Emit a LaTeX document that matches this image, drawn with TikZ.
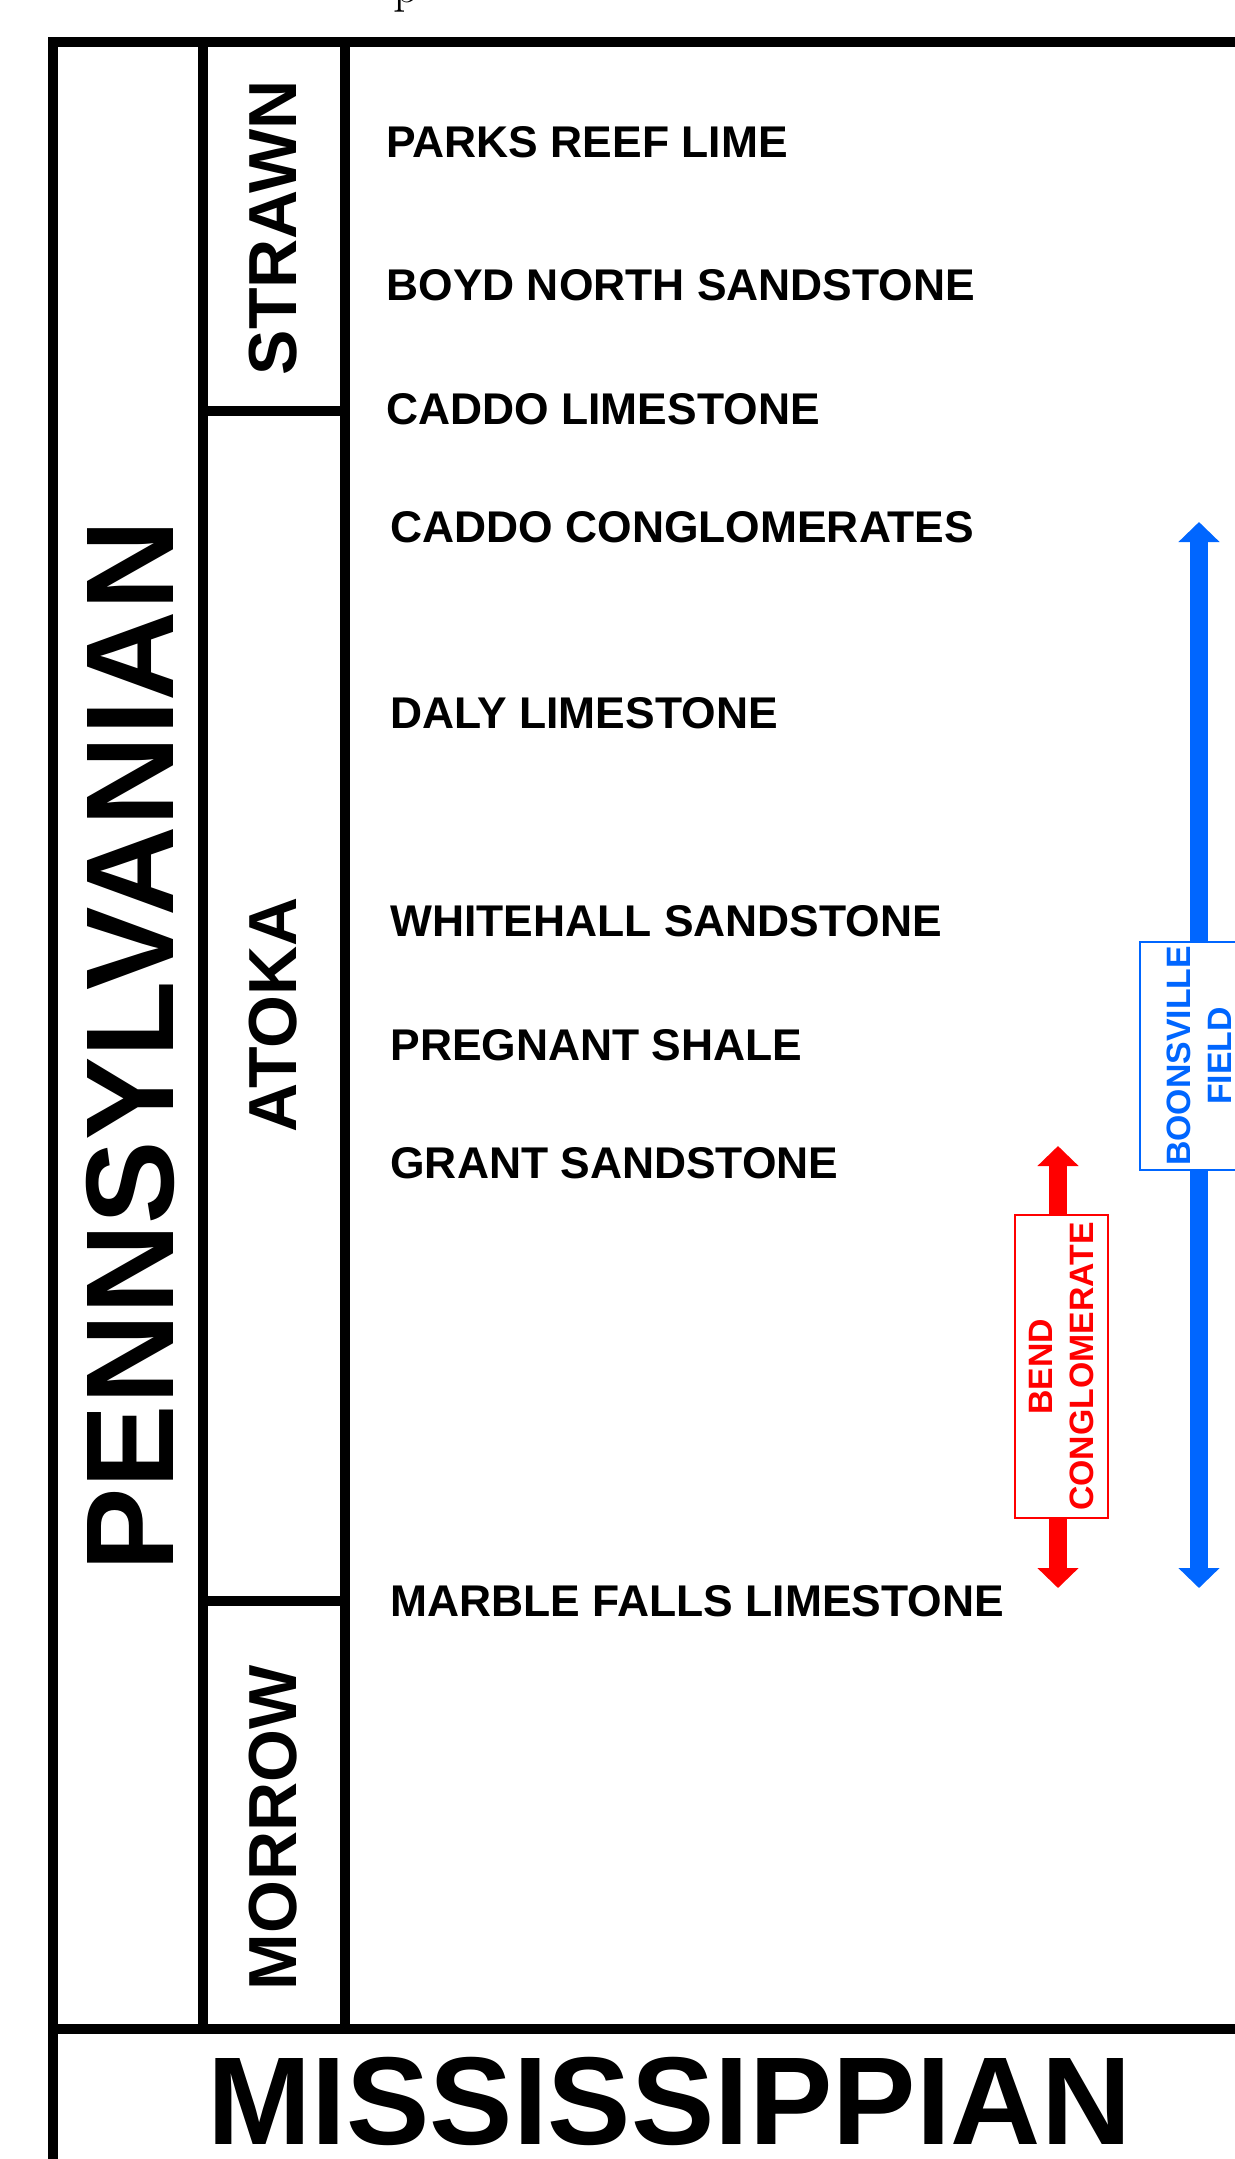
\documentclass[tikz,border=0pt]{standalone}
\usepackage{fontspec}
\newfontfamily\chartfont{Liberation Sans}
\usetikzlibrary{arrows.meta,positioning}
\definecolor{fieldblue}{RGB}{0,102,255}
\definecolor{bendred}{RGB}{255,0,0}
\tikzset{
  frame/.style={line width=5pt},
  unit/.style={anchor=west, inner sep=0pt, font=\chartfont\bfseries\fontsize{22.2}{26}\selectfont},
  series/.style={rotate=90, inner sep=0pt, font=\chartfont\bfseries\fontsize{34}{40}\selectfont},
  system/.style={inner sep=0pt, font=\chartfont\bfseries\fontsize{62.5}{70}\selectfont},
  spanarrow/.style={line width=9pt, {Triangle[width=20pt,length=10pt]}-{Triangle[width=20pt,length=10pt]}},
  spanbox/.style={draw=#1, text=#1, line width=1pt, fill=white, rotate=90, inner sep=0pt, align=center,
    font=\chartfont\bfseries\fontsize{16.9}{20.5}\selectfont},
}
\begin{document}
\begin{tikzpicture}[x=0.5pt,y=-0.5pt]
  \useasboundingbox (0,0) rectangle (1235,2159);
  % caption cut off above the chart
  \node[anchor=base west, inner sep=0pt, font=\fontsize{25}{30}\selectfont] (caption) at (393,2) {p};

  % columns
  \draw[frame] (1260,42) -- (53,42) -- (53,2170);
  \draw[frame] (53,2029) -- (1260,2029);
  \draw[frame] (203,42) -- (203,2029) (345,42) -- (345,2029);
  \draw[frame] (203,410.5) -- (345,410.5) (203,1601) -- (345,1601);

  \node[system, rotate=90] (penn) at (130,1046) {PENNSYLVANIAN};
  \node[system, anchor=base] (miss) at (669.5,2144) {MISSISSIPPIAN};

  \node[series] (strawn) at (273,228) {STRAWN};
  \node[series] (atoka) at (273,1015) {ATOKA};
  \node[series] (morrow) at (273,1828) {MORROW};

  % formations
  \node[unit] (parks) at (386,142) {PARKS REEF LIME};
  \node[unit] (boyd) at (386,285) {BOYD NORTH SANDSTONE};
  \node[unit] (caddolime) at (386,409) {CADDO LIMESTONE};
  \node[unit] (caddocong) at (390,527) {CADDO CONGLOMERATES};
  \node[unit] (daly) at (390,713) {DALY LIMESTONE};
  \node[unit] (whitehall) at (390,921) {WHITEHALL SANDSTONE};
  \node[unit] (pregnant) at (390,1045) {PREGNANT SHALE};
  \node[unit] (grant) at (390,1163) {GRANT SANDSTONE};
  \node[unit] (marble) at (390,1601) {MARBLE FALLS LIMESTONE};

  % ranges
  \coordinate (bftop) at (1199,522);
  \coordinate (bfbot) at (1199,1588);
  \coordinate (bctop) at (1058,1146);
  \coordinate (bcbot) at (1058,1588);
  \draw[spanarrow, fieldblue] (bftop) -- (bfbot);
  \draw[spanarrow, bendred] (bctop) -- (bcbot);
  \node[spanbox=fieldblue, minimum width=114pt, minimum height=59pt] (boonsville) at (1199,1056) {BOONSVILLE\\FIELD};
  \node[spanbox=bendred, minimum width=151.5pt, minimum height=46.5pt] (bend) at (1061.5,1366.5) {BEND\\CONGLOMERATE};
\end{tikzpicture}
\end{document}
